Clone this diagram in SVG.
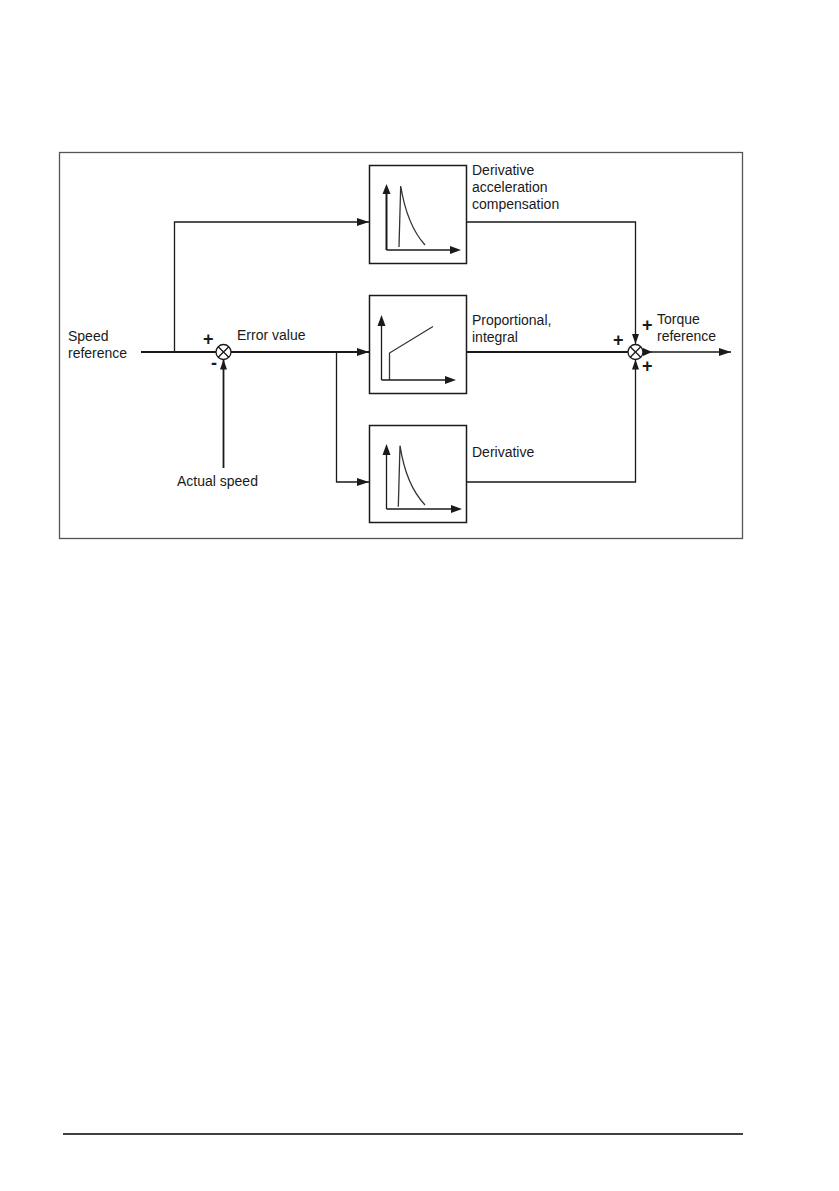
<svg xmlns="http://www.w3.org/2000/svg" width="839" height="1191" viewBox="0 0 839 1191">
<defs>
<marker id="ah" markerWidth="12" markerHeight="8" refX="12" refY="4" orient="auto" markerUnits="userSpaceOnUse">
<path d="M0,0 L12,4 L0,8 Z" fill="#1a1a1a"/>
</marker>
<marker id="ahs" markerWidth="10" markerHeight="7" refX="10" refY="3.5" orient="auto" markerUnits="userSpaceOnUse">
<path d="M0,0 L10,3.5 L0,7 Z" fill="#1a1a1a"/>
</marker>
</defs>
<style>
.t{font-family:"Liberation Sans",Arial,sans-serif;font-size:14px;fill:#1a1a1a}
.p{font-family:"Liberation Sans",Arial,sans-serif;font-size:18px;font-weight:bold;fill:#1a1a1a}
.ln{fill:none;stroke:#1a1a1a;stroke-width:1.8}
.th{fill:none;stroke:#1a1a1a;stroke-width:1.3}
.box{fill:#fff;stroke:#1a1a1a;stroke-width:1.5}
.ax{fill:none;stroke:#1a1a1a;stroke-width:1.3}
.cv{fill:none;stroke:#333;stroke-width:1.3}
.sum{fill:#fff;stroke:#1a1a1a;stroke-width:1.3}
</style>
<rect width="839" height="1191" fill="#fff"/>
<rect id="frame" x="59.5" y="152.5" width="683" height="386" fill="none" stroke="#555" stroke-width="1.3"/>
<line x1="63" y1="1134" x2="743" y2="1134" stroke="#000" stroke-width="1.3"/>

<g id="connectors">
<line class="ln" x1="141" y1="352" x2="216" y2="352"/>
<polyline class="th" points="174.5,352 174.5,222 369,222" marker-end="url(#ah)"/>
<line class="ln" x1="231" y1="352" x2="369" y2="352" marker-end="url(#ah)"/>
<line class="ln" x1="223.5" y1="468" x2="223.5" y2="359.5" marker-end="url(#ahs)"/>
<polyline class="th" points="336.5,352 336.5,482 369,482" marker-end="url(#ah)"/>
<polyline class="th" points="466,222 635.5,222 635.5,344" marker-end="url(#ahs)"/>
<line class="ln" x1="466" y1="352" x2="628" y2="352"/>
<polyline class="th" points="466,482 635.5,482 635.5,359.5" marker-end="url(#ahs)"/>
<line class="th" x1="643" y1="352" x2="731" y2="352" marker-end="url(#ah)"/>
<path d="M643,348 L652,352 L643,356 Z" fill="#1a1a1a"/>
</g>

<g id="sum1">
<circle class="sum" cx="223.5" cy="352" r="7.5"/>
<line class="th" x1="218.2" y1="346.7" x2="228.8" y2="357.3"/>
<line class="th" x1="218.2" y1="357.3" x2="228.8" y2="346.7"/>
<text class="p" x="203" y="345">+</text>
<text class="p" x="211" y="369">-</text>
</g>

<g id="sum2">
<circle class="sum" cx="635.5" cy="352" r="7.5"/>
<line class="th" x1="630.2" y1="346.7" x2="640.8" y2="357.3"/>
<line class="th" x1="630.2" y1="357.3" x2="640.8" y2="346.7"/>
<text class="p" x="613" y="346">+</text>
<text class="p" x="642" y="331">+</text>
<text class="p" x="642" y="372">+</text>
</g>

<g id="box-dac">
<rect class="box" x="369.5" y="165.5" width="97" height="98"/>
<line x1="386.5" y1="250" x2="386.5" y2="192" stroke="#1a1a1a" stroke-width="2"/>
<path d="M382.5,194 L386.5,184 L390.5,194 Z" fill="#1a1a1a"/>
<line class="ax" x1="386.5" y1="250" x2="452" y2="250"/>
<path d="M450,246 L461,250 L450,254 Z" fill="#1a1a1a"/>
<path class="cv" d="M399,247 L400.7,186 Q407,225 425,245"/>
</g>

<g id="box-pi">
<rect class="box" x="369.5" y="295.5" width="97" height="98"/>
<line class="ax" x1="381.5" y1="380" x2="381.5" y2="324"/>
<path d="M377.5,326 L381.5,315 L385.5,326 Z" fill="#1a1a1a"/>
<line class="ax" x1="381.5" y1="380" x2="447" y2="380"/>
<path d="M445,376 L456,380 L445,384 Z" fill="#1a1a1a"/>
<polyline class="cv" points="389.5,380 389.5,353 433,326.5"/>
</g>

<g id="box-d">
<rect class="box" x="369.5" y="425.5" width="97" height="97"/>
<line class="ax" x1="386.5" y1="509" x2="386.5" y2="453"/>
<path d="M382.5,455 L386.5,444 L390.5,455 Z" fill="#1a1a1a"/>
<line class="ax" x1="386.5" y1="509" x2="453" y2="509"/>
<path d="M451,505 L462,509 L451,513 Z" fill="#1a1a1a"/>
<path class="cv" d="M398.3,506.7 L400,445.7 Q406,485 425,505"/>
</g>

<g id="labels">
<text class="t" x="68" y="341">Speed</text>
<text class="t" x="68" y="358">reference</text>
<text class="t" x="237" y="340">Error value</text>
<text class="t" x="177" y="486">Actual speed</text>
<text class="t" x="472" y="175">Derivative</text>
<text class="t" x="472" y="192">acceleration</text>
<text class="t" x="472" y="209">compensation</text>
<text class="t" x="472" y="325">Proportional,</text>
<text class="t" x="472" y="342">integral</text>
<text class="t" x="472" y="457">Derivative</text>
<text class="t" x="657" y="324">Torque</text>
<text class="t" x="657" y="341">reference</text>
</g>
</svg>
